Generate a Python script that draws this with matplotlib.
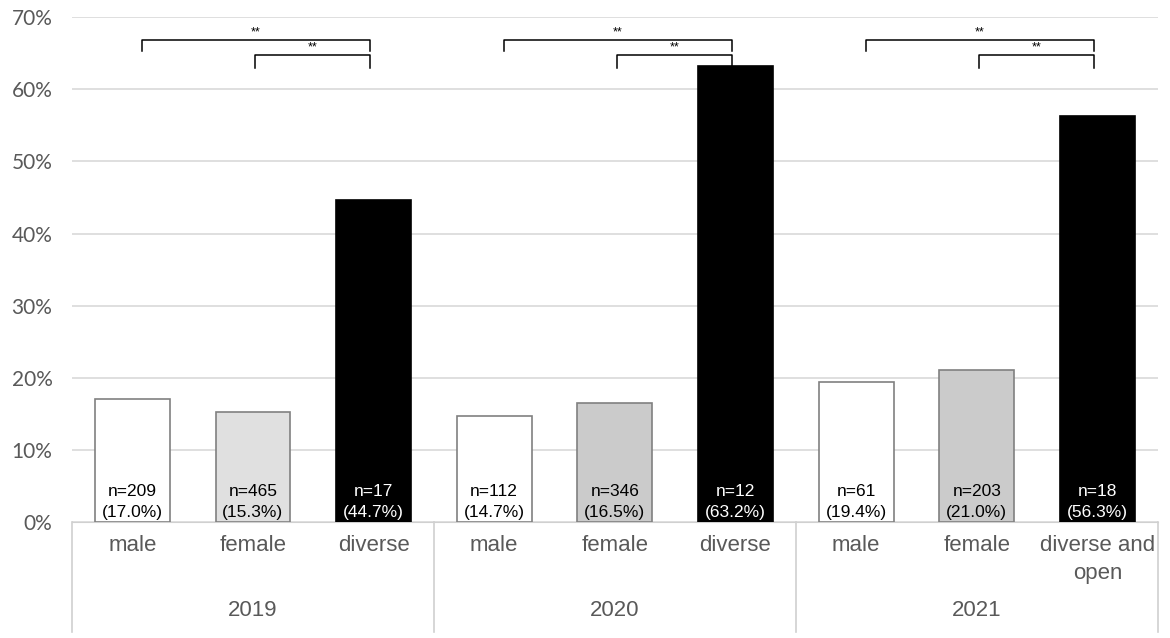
import matplotlib.pyplot as plt
import matplotlib.transforms as mtransforms

# data
years = ['2019', '2020', '2021']
groups = [['male', 'female', 'diverse'],
          ['male', 'female', 'diverse'],
          ['male', 'female', 'diverse and\nopen']]
pct = [[17.0, 15.3, 44.7],
       [14.7, 16.5, 63.2],
       [19.4, 21.0, 56.3]]
n_obs = [[209, 465, 17],
         [112, 346, 12],
         [61, 203, 18]]
female_colors = ['#e0e0e0', '#cbcbcb', '#cbcbcb']

plt.rcParams['font.family'] = ['Liberation Sans', 'DejaVu Sans']

fig = plt.figure(figsize=(11.7, 6.38), dpi=100)
ax = fig.add_axes([0.0615, 0.182, 0.928, 0.791])

ax.set_xlim(0, 9)
ax.set_ylim(0, 70)
ax.set_yticks(range(0, 71, 10))
ax.set_yticklabels([f'{v}%' for v in range(0, 71, 10)], fontfamily='Lato',
                   fontsize=15, color='#595959')
ax.tick_params(axis='y', length=0, pad=14)
ax.set_xticks([])
ax.grid(axis='y', color='#d9d9d9', linewidth=1.2)
ax.set_axisbelow(True)
for s in ['top', 'right', 'left']:
    ax.spines[s].set_visible(False)
ax.spines['bottom'].set_color('#d0d0d0')

trans = mtransforms.blended_transform_factory(ax.transData, ax.transAxes)

for g, year in enumerate(years):
    for i, cat in enumerate(groups[g]):
        x = g * 3 + i + 0.5
        if i == 0:
            fc, ec = 'white', '#808080'
        elif i == 1:
            fc, ec = female_colors[g], '#808080'
        else:
            fc, ec = 'black', 'black'
        ax.bar(x, pct[g][i], width=0.62, color=fc, edgecolor=ec, linewidth=1.2, zorder=3)
        tc = 'white' if i == 2 else 'black'
        ax.text(x, 0.3, f'n={n_obs[g][i]}\n({pct[g][i]:.1f}%)', ha='center', va='bottom',
                fontsize=12.5, color=tc, linespacing=1.45, zorder=4)
        ax.text(x, -0.025, cat, transform=trans, ha='center', va='top', fontsize=16,
                color='#595959', linespacing=1.45)
    ax.text(g * 3 + 1.5, -0.176, year, transform=trans, ha='center', va='center',
            fontsize=16, color='#595959')

    # significance brackets
    xm, xf, xd = g * 3 + 0.58, g * 3 + 1.52, g * 3 + 2.47
    ax.plot([xm, xm, xd, xd], [65.3, 66.9, 66.9, 65.3], color='black', lw=1.1, zorder=5)
    ax.text((xm + xd) / 2, 67.1, '**', ha='center', va='bottom', fontsize=9)
    ax.plot([xf, xf, xd, xd], [63.0, 64.8, 64.8, 63.0], color='black', lw=1.1, zorder=5)
    ax.text((xf + xd) / 2, 65.0, '**', ha='center', va='bottom', fontsize=9)

# category axis separators
for xs in [0, 3, 6, 9]:
    ax.plot([xs, xs], [0, -0.218], transform=trans, color='#d0d0d0', lw=1.2, clip_on=False)

fig.savefig('out.png', dpi=100)
